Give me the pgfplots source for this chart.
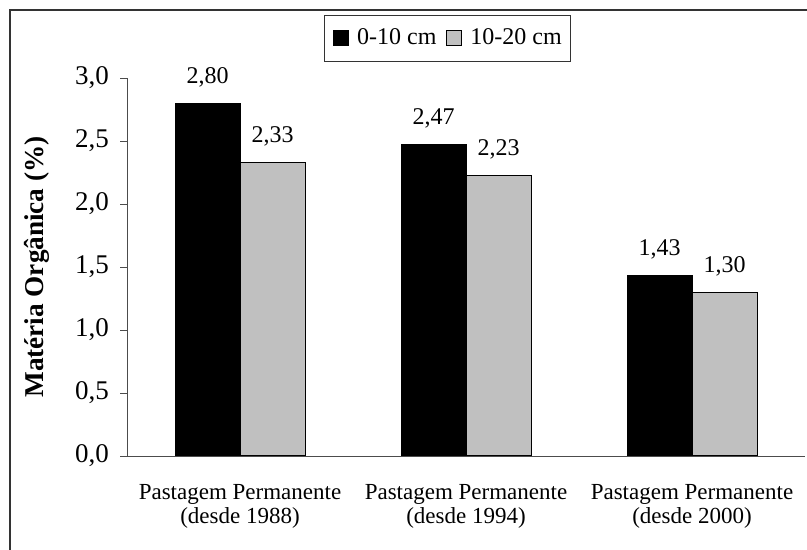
\documentclass[border=0pt]{standalone}
\usepackage{pgfplots}
\pgfplotsset{compat=1.18}
\usepackage{fontspec}
\setmainfont{Liberation Serif}
\definecolor{barblack}{RGB}{0,0,0}
\definecolor{bargray}{RGB}{192,192,192}

\begin{document}
\begin{tikzpicture}
\useasboundingbox (0,0) rectangle (403.5pt,275pt);
% outer chart frame (right and bottom sides fall outside the picture)
\draw[line width=0.8pt, black!80] (5pt,-2pt) -- (5pt,270pt) -- (406pt,270pt);
\begin{axis}[
    at={(63.5pt,47pt)}, anchor=south west,
    scale only axis,
    width=339pt, height=189pt,
    ybar=0pt, bar width=32.5pt,
    axis lines*=left,
    axis line style={black!70},
    xmin=-0.5, xmax=2.5,
    ymin=0, ymax=3,
    ytick distance=0.5,
    xtick={0,1,2},
    xticklabels={{Pastagem Permanente\\(desde 1988)},{Pastagem Permanente\\(desde 1994)},{Pastagem Permanente\\(desde 2000)}},
    x tick label style={align=center, font=\fontsize{11.5}{12}\selectfont, yshift=-7pt},
    xtick style={draw=none},
    extra x ticks={-0.5,0.5,1.5,2.5},
    extra x tick labels={},
    extra x tick style={tick align=outside, major tick length=4pt, tick style={black!70, draw=black!70}},
    tick align=outside,
    major tick length=3.5pt,
    ytick style={black!70},
    y tick label style={font=\fontsize{13.5}{14}\selectfont, xshift=-2pt, /pgf/number format/.cd, fixed, fixed zerofill, precision=1, use comma},
    /pgf/number format/assume math mode=true,
    ylabel={\textbf{Matéria Orgânica (\%)}},
    every axis y label/.style={at={(axis description cs:-0.133,0.5)}, rotate=90, anchor=center, font=\fontsize{13.6}{15}\selectfont},
    nodes near coords,
    nodes near coords style={font=\fontsize{12}{13}\selectfont, yshift=4.5pt, /pgf/number format/.cd, fixed, fixed zerofill, precision=2, use comma, assume math mode=true},
    legend columns=2,
    legend style={at={(0.4727,1.1045)}, anchor=center, draw=black!80, line width=0.5pt,
        font=\fontsize{12}{13}\selectfont, inner xsep=4.5pt, inner ysep=5pt,
        nodes={inner xsep=0pt},
        /tikz/every odd column/.append style={column sep=4pt},
        /tikz/every even column/.append style={column sep=5pt}},
    legend image code/.code={\draw[#1, line width=0.5pt] (0pt,-3.6pt) rectangle (7.5pt,3.9pt);},
]
\addplot[fill=barblack, draw=black, line width=0.5pt] coordinates {(0,2.80) (1,2.47) (2,1.43)};
\addlegendentry{0-10 cm}
\addplot[fill=bargray, draw=black, line width=0.5pt] coordinates {(0,2.33) (1,2.23) (2,1.30)};
\addlegendentry{10-20 cm}
\end{axis}
\end{tikzpicture}
\end{document}
